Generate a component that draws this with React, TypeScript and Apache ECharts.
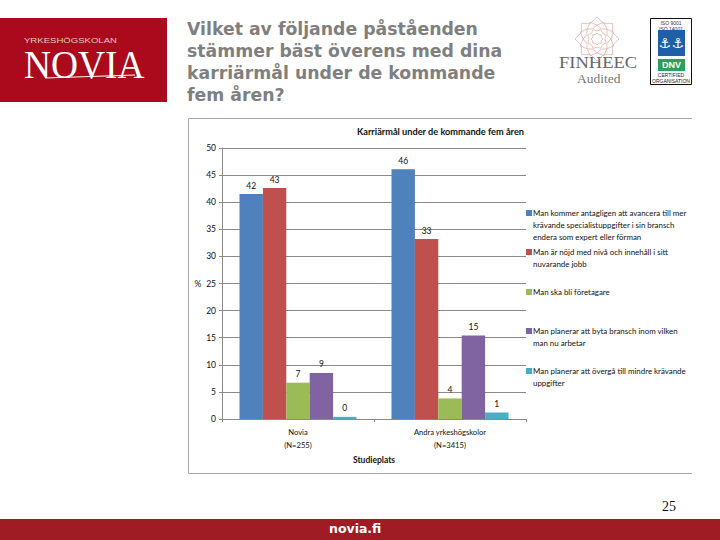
import React, { useEffect, useRef } from "react";
import * as echarts from "echarts";

const categories = ["Novia\n(N=255)", "Andra yrkeshögskolor\n(N=3415)"];
const seriesNames = [
  "Man kommer antagligen att avancera till mer\nkrävande specialistuppgifter i sin bransch\nendera som expert eller förman",
  "Man är nöjd med nivå och innehåll i sitt\nnuvarande jobb",
  "Man ska bli företagare",
  "Man planerar att byta bransch inom vilken\nman nu arbetar",
  "Man planerar att övergå till mindre krävande\nuppgifter",
];
const advance = [41.5, 46.1];
const content = [42.6, 33.2];
const entrepreneur = [6.7, 3.8];
const switchField = [8.5, 15.4];
const lessDemanding = [0.4, 1.2];
const seriesValues = [advance, content, entrepreneur, switchField, lessDemanding];
const seriesLabels = [["42", "46"], ["43", "33"], ["7", "4"], ["9", "15"], ["0", "1"]];
const colors = ["#4F81BD", "#C0504D", "#9BBB59", "#8064A2", "#4BACC6"];
const legendTops = [207, 246, 286, 325, 365];
const heading = "Vilket av följande påståenden\nstämmer bäst överens med dina\nkarriärmål under de kommande\nfem åren?";
const chartTitle = "Karriärmål under de kommande fem åren";

const FONT = "Lato";
const LINE = 12;

function ring(cx: number, cy: number, r1: number, r2: number, n: number, rot: number) {
  const pts: number[][] = [];
  for (let i = 0; i < n * 2; i++) {
    const a = rot + (Math.PI * i) / n;
    const r = i % 2 ? r2 : r1;
    pts.push([cx + r * Math.cos(a), cy + r * Math.sin(a)]);
  }
  return pts;
}

function logos() {
  const els: any[] = [
    { type: "rect", shape: { x: 0, y: 18, width: 167, height: 84 }, style: { fill: "#AB0A1C" } },
    { type: "text", x: 24, y: 36, scaleX: 1.26, style: { text: "YRKESHÖGSKOLAN", font: "7.6px 'Liberation Sans'", fill: "#E8C8C8" } },
    { type: "text", x: 24, y: 45, scaleX: 0.96, style: { text: "NOVIA", font: "39px 'Liberation Serif'", fill: "#FFFFFF" } },
    { type: "line", shape: { x1: 45, y1: 78, x2: 135, y2: 75 }, style: { stroke: "#FFFFFF", lineWidth: 1 } },
    { type: "text", x: 187, y: 18, style: { text: heading, font: "bold 17.3px 'DejaVu Sans'", lineHeight: 22, fill: "#7F7F7F" } },
    { type: "text", x: 559, y: 54, scaleX: 1.09, style: { text: "FINHEEC", font: "17px 'Liberation Serif'", fill: "#666666" } },
    { type: "text", x: 577, y: 72, scaleX: 1.04, style: { text: "Audited", font: "13px 'Liberation Serif'", fill: "#777777" } },
    { type: "rect", shape: { x: 650.5, y: 18.5, width: 41, height: 66 }, style: { fill: "#FFFFFF", stroke: "#111111", lineWidth: 1 } },
    { type: "text", x: 671, y: 20, style: { text: "ISO 9001\nISO 14001", font: "5px 'Liberation Sans'", lineHeight: 6, fill: "#333333", align: "center" } },
    { type: "rect", shape: { x: 658, y: 30, width: 27, height: 26 }, style: { fill: "#1F5FA8" } },
    { type: "text", x: 665, y: 36, style: { text: "⚓", font: "14px 'DejaVu Sans'", fill: "#FFFFFF", align: "center" } },
    { type: "text", x: 678, y: 36, style: { text: "⚓", font: "14px 'DejaVu Sans'", fill: "#FFFFFF", align: "center" } },
    { type: "rect", shape: { x: 658, y: 59, width: 27, height: 12 }, style: { fill: "#2E9E5B" } },
    { type: "text", x: 671.5, y: 60, style: { text: "DNV", font: "bold 9px 'Liberation Sans'", fill: "#FFFFFF", align: "center" } },
    { type: "text", x: 671, y: 72, style: { text: "CERTIFIED\nORGANISATION", font: "5px 'Liberation Sans'", lineHeight: 6, fill: "#222222", align: "center" } },
    { type: "polyline", shape: { points: [[692, 118.5], [188.5, 118.5], [188.5, 473.5], [692, 473.5]] }, style: { fill: "none", stroke: "#A6A6A6", lineWidth: 1 } },
    { type: "text", x: 357, y: 127, style: { text: chartTitle, font: `bold 9.2px ${FONT}`, fill: "#111111" } },
    { type: "text", x: 662, y: 499, style: { text: "25", font: "14px 'Liberation Serif'", fill: "#111111" } },
    { type: "rect", shape: { x: 0, y: 519, width: 720, height: 21 }, style: { fill: "#A01C24" } },
    { type: "text", x: 329, y: 522, style: { text: "novia.fi", font: "bold 12.5px 'DejaVu Sans'", fill: "#FFFFFF" } },
  ];
  [[22, 17], [18, 14], [14, 11], [10, 8], [6, 4.5]].forEach(([a, b], i) => {
    els.push({
      type: "polygon",
      shape: { points: ring(597, 39, a, b, 8, i % 2 ? Math.PI / 8 : 0) },
      style: { fill: "none", stroke: "#E0A8A0", lineWidth: 0.7 },
    });
  });
  return els;
}

export default function App() {
  const ref = useRef<HTMLDivElement>(null);
  useEffect(() => {
    document.body.style.margin = "0";
    const chart = echarts.init(ref.current!, undefined, { renderer: "svg" });
    chart.setOption({
      animation: false,
      backgroundColor: "#FFFFFF",
      textStyle: { fontFamily: FONT },
      grid: { left: 222, top: 148, width: 304, height: 271, containLabel: false },
      xAxis: {
        type: "category",
        data: categories,
        name: "Studieplats",
        nameLocation: "middle",
        nameGap: 35,
        nameTextStyle: { fontFamily: FONT, fontSize: 8.5, fontWeight: "bold", color: "#111" },
        axisLine: { lineStyle: { color: "#8A8A8A" } },
        axisTick: { show: true, length: 3, alignWithLabel: false, lineStyle: { color: "#8A8A8A" } },
        axisLabel: { fontFamily: FONT, fontSize: 7.6, color: "#111", lineHeight: 13, margin: 6 },
      },
      yAxis: {
        type: "value",
        min: 0,
        max: 50,
        interval: 5,
        name: "%",
        nameLocation: "middle",
        nameRotate: 0,
        nameGap: 19,
        nameTextStyle: { fontFamily: FONT, fontSize: 8.5, color: "#111" },
        axisLine: { show: true, lineStyle: { color: "#8A8A8A" } },
        axisTick: { show: true, length: 3, lineStyle: { color: "#8A8A8A" } },
        axisLabel: { fontFamily: FONT, fontSize: 8.5, color: "#111", margin: 6 },
        splitLine: { lineStyle: { color: "#8A8A8A", width: 1 } },
      },
      legend: seriesNames.map((name, i) => {
        const lines = name.split("\n").length;
        const h = lines * LINE;
        return {
          data: [name],
          left: 526,
          top: legendTops[i],
          itemWidth: 6,
          itemHeight: h,
          itemGap: 0,
          padding: 0,
          selectedMode: false,
          icon: `path://M0 3H6V9H0Z M0 0H0Z M0 ${h}H0Z`,
          textStyle: { fontFamily: FONT, fontSize: 7.9, lineHeight: LINE, color: "#111", padding: [0, 0, 0, -4] },
        };
      }),
      series: seriesNames.map((name, i) => ({
        type: "bar",
        name,
        data: seriesValues[i],
        barWidth: 23.4,
        barGap: "0%",
        itemStyle: { color: colors[i] },
        label: {
          show: true,
          position: "top",
          distance: 4,
          fontFamily: FONT,
          fontSize: 8.5,
          color: "#111",
          formatter: (p: any) => seriesLabels[i][p.dataIndex],
        },
      })),
      graphic: { elements: logos() },
    });
    return () => chart.dispose();
  }, []);
  return <div ref={ref} style={{ position: "absolute", left: 0, top: 0, width: 720, height: 540 }} />;
}
